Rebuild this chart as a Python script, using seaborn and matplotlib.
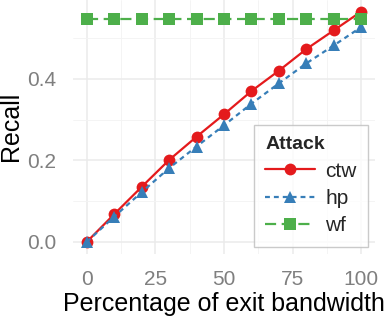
import numpy as np
import pandas as pd
import matplotlib
matplotlib.use("Agg")
import matplotlib.pyplot as plt
import seaborn as sns
from matplotlib.ticker import MultipleLocator

bandwidth = [0, 10, 20, 30, 40, 50, 60, 70, 80, 90, 100]
ctw = [0.0, 0.068, 0.135, 0.201, 0.258, 0.313, 0.370, 0.420, 0.473, 0.519, 0.565]
hp = [0.0, 0.062, 0.122, 0.181, 0.234, 0.286, 0.339, 0.389, 0.438, 0.482, 0.527]
wf = [0.547] * 11
attacks = ["ctw", "hp", "wf"]

df = pd.DataFrame({
    "x": bandwidth * 3,
    "Recall": ctw + hp + wf,
    "Attack": ["ctw"] * 11 + ["hp"] * 11 + ["wf"] * 11,
})

sns.set_theme(style="whitegrid")
plt.rcParams["font.family"] = ["Liberation Sans", "DejaVu Sans"]

fig = plt.figure(figsize=(3.86, 3.18), dpi=100)
ax = fig.add_axes([73 / 386, 1 - 253.5 / 318, (375 - 73) / 386, 253.5 / 318])

palette = {"ctw": "#E41A1C", "hp": "#377EB8", "wf": "#4DAF4A"}
dashes = {"ctw": "", "hp": (2.2, 1.8), "wf": (5, 2.5)}
markers = {"ctw": "o", "hp": "^", "wf": "s"}

sns.lineplot(data=df, x="x", y="Recall", hue="Attack", style="Attack",
             palette=palette, dashes=dashes, markers=markers,
             hue_order=attacks, style_order=attacks,
             linewidth=1.6, markersize=8.5, markeredgewidth=0, ax=ax)

ax.set_xlim(-5, 105)
ax.set_ylim(-0.0283, 0.5933)
ax.xaxis.set_major_locator(MultipleLocator(25))
ax.xaxis.set_minor_locator(MultipleLocator(12.5))
ax.yaxis.set_major_locator(MultipleLocator(0.2))
ax.yaxis.set_minor_locator(MultipleLocator(0.1))
ax.set_yticklabels([f"{v:.1f}" for v in ax.get_yticks()])
ax.grid(which="major", color="#EBEBEB", linewidth=1.1)
ax.grid(which="minor", color="#F3F3F3", linewidth=0.6)
for s in ax.spines.values():
    s.set_visible(False)
ax.set_facecolor("white")
ax.tick_params(axis="both", which="both", length=0, labelsize=15, colors="#7F7F7F")
ax.tick_params(axis="y", pad=12)
ax.tick_params(axis="x", pad=12)
ax.set_xlabel("Percentage of exit bandwidth", fontsize=18, color="black", labelpad=2)
ax.set_ylabel("Recall", fontsize=18, color="black", labelpad=3)

leg = ax.legend(title="Attack", loc="lower right", bbox_to_anchor=(368.3 / 386, 1 - 246.7 / 318),
                bbox_transform=fig.transFigure, fontsize=15, frameon=True, fancybox=False,
                handlelength=2.4, borderpad=0.55, labelspacing=0.4, handletextpad=0.5,
                borderaxespad=0.0)
leg.get_title().set_fontweight("bold")
leg.get_title().set_fontsize(14)
leg._legend_box.align = "left"
leg.get_frame().set_edgecolor("#BDBDBD")
leg.get_frame().set_linewidth(1.0)

fig.savefig("out.png", dpi=100)
